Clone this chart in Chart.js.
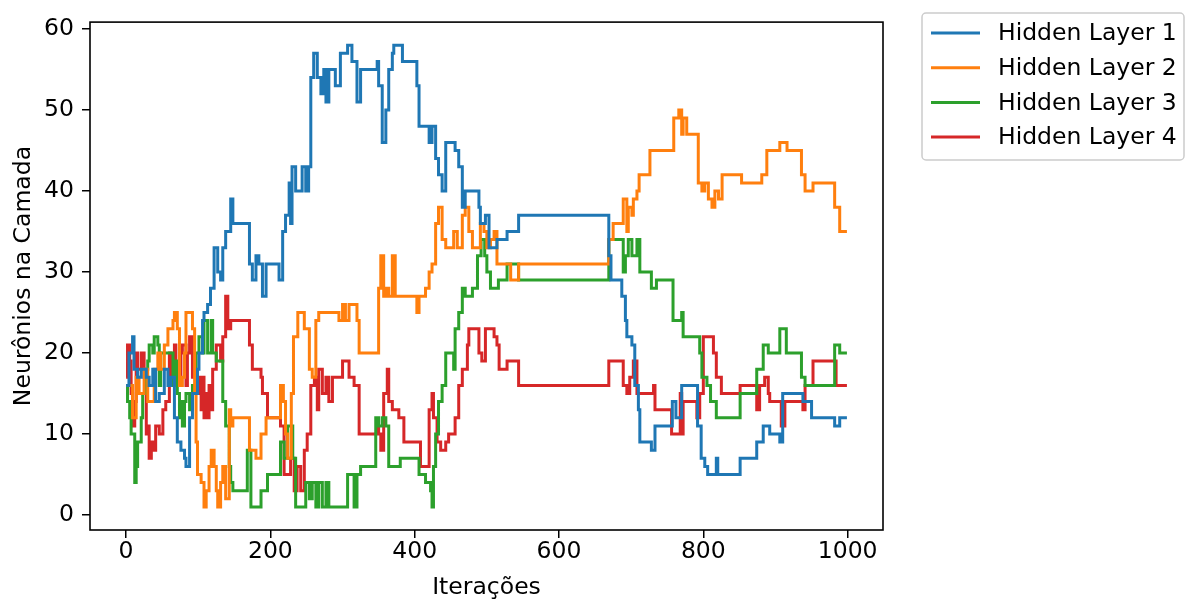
<!DOCTYPE html>
<html>
<head>
<meta charset="utf-8">
<script src="https://cdn.jsdelivr.net/npm/chart.js@4"></script>
<style>
  html, body { margin: 0; padding: 0; background: #fff; }
</style>
</head>
<body>
<canvas id="layersChart" width="1187" height="603"></canvas>
<script>
// Neurons per hidden layer over the iterations (value changes only; the line holds between them)
const layerNames = ['Hidden Layer 1', 'Hidden Layer 2', 'Hidden Layer 3', 'Hidden Layer 4'];
const layerColors = ['#1f77b4', '#ff7f0e', '#2ca02c', '#d62728'];

const layer1Iter = [0, 4, 9, 11, 16, 21, 28, 32, 37, 41, 46, 53, 58, 62, 67, 71, 76, 81, 83, 88, 92, 99, 101, 106, 108, 113, 117, 122, 127, 131, 134, 138, 145, 148, 171, 175, 180, 184, 189, 194, 212, 217, 221, 226, 228, 230, 235, 244, 249, 253, 256, 260, 265, 270, 274, 277, 281, 290, 297, 307, 313, 320, 325, 348, 350, 355, 360, 364, 369, 371, 383, 403, 406, 420, 424, 429, 433, 438, 443, 456, 461, 466, 470, 489, 491, 498, 503, 514, 528, 544, 669, 672, 687, 692, 694, 701, 705, 710, 712, 728, 733, 757, 762, 770, 792, 797, 802, 806, 818, 820, 851, 874, 883, 892, 906, 910, 938, 950, 982, 989, 999];
const layer1Val = [16, 20, 22, 18, 17, 18, 17, 16, 18, 14, 15, 18, 16, 17, 12, 9, 8, 7, 6, 12, 15, 18, 20, 24, 25, 26, 28, 33, 30, 29, 33, 35, 39, 36, 31, 29, 32, 31, 27, 31, 29, 35, 37, 41, 36, 43, 40, 43, 40, 43, 54, 57, 54, 52, 55, 51, 55, 53, 57, 58, 56, 51, 55, 56, 53, 46, 50, 55, 57, 58, 56, 53, 48, 46, 48, 44, 42, 40, 46, 45, 43, 38, 40, 38, 36, 37, 33, 34, 35, 37, 32, 29, 27, 24, 22, 21, 16, 13, 9, 8, 11, 14, 12, 16, 11, 7, 6, 5, 7, 5, 7, 9, 11, 10, 9, 15, 14, 12, 11, 12, 12];

const layer2Iter = [0, 9, 14, 18, 25, 30, 39, 44, 48, 53, 58, 65, 67, 71, 74, 78, 81, 83, 92, 95, 97, 99, 104, 108, 111, 115, 118, 122, 125, 127, 131, 134, 138, 143, 145, 148, 171, 180, 187, 194, 214, 218, 221, 224, 229, 232, 238, 247, 254, 258, 263, 267, 295, 300, 304, 309, 320, 323, 350, 353, 357, 360, 364, 369, 373, 403, 406, 415, 420, 424, 429, 433, 438, 443, 454, 459, 466, 470, 475, 480, 491, 496, 500, 505, 510, 514, 533, 544, 669, 675, 689, 694, 696, 701, 703, 708, 711, 726, 759, 766, 770, 772, 777, 793, 798, 802, 807, 812, 816, 821, 826, 853, 881, 888, 906, 916, 936, 941, 952, 982, 989, 999];
const layer2Val = [16, 12, 17, 15, 18, 14, 18, 20, 18, 21, 23, 24, 25, 23, 16, 17, 20, 25, 23, 15, 9, 5, 4, 1, 3, 6, 8, 6, 3, 1, 4, 6, 2, 13, 11, 12, 8, 7, 10, 12, 16, 14, 10, 7, 15, 22, 25, 23, 18, 17, 24, 25, 24, 26, 24, 26, 24, 20, 28, 32, 27, 28, 27, 32, 27, 25, 27, 28, 30, 31, 36, 38, 34, 33, 35, 33, 37, 38, 35, 33, 36, 35, 33, 34, 35, 31, 29, 31, 34, 36, 39, 35, 38, 37, 39, 40, 42, 45, 49, 50, 47, 49, 47, 41, 40, 41, 39, 38, 40, 39, 42, 41, 42, 45, 46, 45, 42, 40, 41, 38, 35, 35];

const layer3Iter = [0, 2, 5, 7, 12, 14, 16, 21, 23, 28, 30, 32, 37, 39, 44, 46, 48, 65, 67, 71, 74, 76, 78, 81, 83, 88, 92, 97, 101, 106, 108, 113, 118, 120, 125, 134, 138, 143, 145, 148, 168, 173, 187, 196, 214, 219, 224, 231, 235, 249, 254, 258, 263, 267, 272, 277, 281, 307, 316, 320, 325, 346, 350, 355, 360, 364, 380, 406, 415, 422, 424, 426, 429, 433, 438, 443, 454, 456, 461, 466, 470, 480, 487, 492, 497, 500, 505, 516, 528, 544, 669, 689, 692, 696, 701, 708, 712, 728, 735, 758, 770, 772, 795, 798, 805, 810, 818, 851, 874, 883, 890, 906, 915, 936, 941, 982, 989, 999];
const layer3Val = [16, 14, 12, 10, 4, 6, 9, 12, 15, 18, 19, 21, 20, 22, 21, 16, 20, 16, 19, 15, 12, 14, 11, 14, 15, 13, 16, 20, 22, 20, 24, 20, 24, 20, 19, 14, 11, 6, 4, 3, 8, 1, 3, 5, 9, 7, 11, 7, 1, 4, 2, 4, 1, 4, 1, 4, 1, 5, 1, 5, 6, 12, 11, 12, 11, 6, 7, 5, 4, 3, 1, 6, 10, 14, 16, 20, 18, 23, 25, 28, 27, 28, 32, 34, 32, 30, 28, 29, 31, 29, 34, 30, 32, 34, 32, 34, 30, 28, 29, 24, 25, 22, 20, 17, 16, 14, 12, 15, 18, 21, 20, 23, 20, 17, 16, 21, 20, 20];

const layer4Iter = [0, 2, 5, 7, 9, 12, 14, 16, 21, 25, 28, 30, 32, 35, 37, 41, 46, 51, 55, 60, 62, 67, 69, 74, 76, 78, 83, 85, 88, 92, 97, 101, 104, 106, 108, 111, 113, 115, 118, 120, 125, 131, 134, 138, 141, 145, 171, 175, 187, 189, 196, 214, 219, 228, 233, 237, 242, 247, 251, 256, 261, 265, 267, 272, 277, 281, 286, 300, 309, 316, 323, 348, 350, 353, 357, 362, 364, 369, 378, 385, 408, 420, 424, 426, 431, 436, 443, 447, 456, 461, 466, 473, 475, 489, 493, 498, 510, 514, 517, 528, 544, 669, 689, 694, 698, 703, 708, 731, 733, 756, 768, 770, 772, 791, 795, 800, 814, 818, 825, 851, 874, 878, 885, 890, 892, 908, 913, 938, 941, 952, 984, 999];
const layer4Val = [17, 21, 19, 15, 11, 14, 20, 18, 20, 17, 10, 11, 7, 9, 8, 11, 10, 13, 14, 20, 17, 21, 18, 16, 20, 21, 16, 20, 22, 17, 15, 17, 13, 17, 12, 15, 12, 16, 13, 18, 21, 19, 22, 27, 23, 24, 21, 18, 17, 15, 12, 11, 5, 7, 3, 6, 3, 8, 10, 16, 17, 13, 18, 15, 17, 14, 17, 19, 17, 16, 10, 11, 10, 8, 15, 18, 14, 13, 12, 9, 6, 13, 15, 12, 9, 8, 9, 10, 12, 16, 18, 21, 23, 20, 19, 23, 22, 21, 18, 19, 16, 19, 16, 15, 17, 19, 15, 16, 13, 10, 15, 10, 14, 12, 15, 22, 20, 17, 15, 16, 13, 16, 17, 15, 14, 11, 14, 13, 16, 19, 16, 16];

const xTicks = [0, 200, 400, 600, 800, 1000];
const yTicks = [0, 10, 20, 30, 40, 50, 60];

const layerIters = [layer1Iter, layer2Iter, layer3Iter, layer4Iter];
const layerVals = [layer1Val, layer2Val, layer3Val, layer4Val];

const FONT = 'DejaVu Sans';
const FONT_SIZE = 23.5;
Chart.defaults.font.family = FONT;
Chart.defaults.font.size = FONT_SIZE;
Chart.defaults.color = '#000';

// axes box on all four sides
const framePlugin = {
    id: 'frame',
    afterDatasetsDraw(chart) {
        const { ctx, chartArea: a } = chart;
        ctx.save();
        ctx.strokeStyle = '#000';
        ctx.lineWidth = 1.6;
        ctx.strokeRect(a.left, a.top, a.right - a.left, a.bottom - a.top);
        ctx.restore();
    },
};

// legend box placed outside the axes, top right
const sideLegend = {
    id: 'sideLegend',
    afterDraw(chart) {
        const ctx = chart.ctx;
        const left = 922, top = 13, w = 262, h = 147;
        ctx.save();
        ctx.beginPath();
        ctx.roundRect(left, top, w, h, 4);
        ctx.fillStyle = '#fff';
        ctx.fill();
        ctx.strokeStyle = '#cccccc';
        ctx.lineWidth = 1.5;
        ctx.stroke();
        ctx.font = FONT_SIZE + 'px "' + FONT + '"';
        ctx.textBaseline = 'middle';
        ctx.textAlign = 'left';
        chart.data.datasets.forEach((ds, i) => {
            const y = 33 + i * 34.7;
            ctx.strokeStyle = ds.borderColor;
            ctx.lineWidth = 3;
            ctx.beginPath();
            ctx.moveTo(931, y);
            ctx.lineTo(980, y);
            ctx.stroke();
            ctx.fillStyle = '#000';
            ctx.fillText(ds.label, 998, y + 1);
        });
        ctx.restore();
    },
};

const datasets = layerNames.map((name, i) => ({
    label: name,
    data: layerIters[i].map((it, k) => ({ x: it, y: layerVals[i][k] })),
    borderColor: layerColors[i],
    backgroundColor: layerColors[i],
    borderWidth: 3,
    pointRadius: 0,
    stepped: true,
    fill: false,
}));

const ctx = document.getElementById('layersChart').getContext('2d');
const chart = new Chart(ctx, {
    type: 'line',
    data: { datasets },
    options: {
        responsive: false,
        animation: false,
        layout: { padding: { top: 13, right: 304, bottom: 0, left: 0 } },
        plugins: {
            legend: { display: false },
            tooltip: { enabled: false },
        },
        scales: {
            x: {
                type: 'linear',
                min: -50,
                max: 1049,
                afterBuildTicks: (scale) => { scale.ticks = xTicks.map(v => ({ value: v })); },
                afterFit: (scale) => { scale.height = 73; },
                border: { display: false },
                grid: { drawOnChartArea: false, drawTicks: true, tickLength: 8, color: '#000', lineWidth: 1.5 },
                ticks: { padding: 0, maxRotation: 0, callback: (v) => String(v) },
                title: { display: true, text: 'Iterações', padding: { top: 0, bottom: 1 } },
            },
            y: {
                type: 'linear',
                min: -1.85,
                max: 60.85,
                afterBuildTicks: (scale) => { scale.ticks = yTicks.map(v => ({ value: v })); },
                afterFit: (scale) => { scale.width = 90; },
                border: { display: false },
                grid: { drawOnChartArea: false, drawTicks: true, tickLength: 8, color: '#000', lineWidth: 1.5 },
                ticks: { padding: 8, callback: (v) => String(v) },
                title: { display: true, text: 'Neurônios na Camada', padding: { top: 10, bottom: 0 } },
            },
        },
    },
    plugins: [framePlugin, sideLegend],
});
</script>
</body>
</html>
